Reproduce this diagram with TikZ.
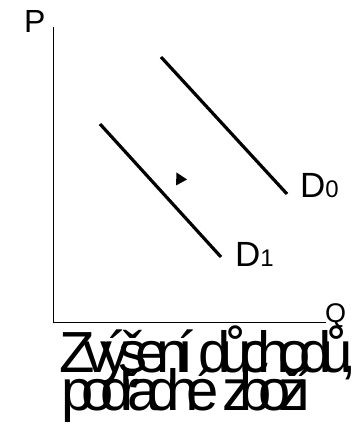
\documentclass[tikz,border=0pt]{standalone}
\usepackage{fontspec}
\setmainfont{Liberation Sans}
\newfontfamily\capfont[LetterSpace=-19.7]{Liberation Sans}
\newfontfamily\capfontb[LetterSpace=-21.5]{Liberation Sans}
\usetikzlibrary{positioning, arrows.meta}
\tikzset{
  axisline/.style={draw, line width=0.9pt},
  demand/.style={draw, line width=3.2pt},
  axislabel/.style={inner sep=0pt, font=\fontsize{32}{32}\selectfont},
  curvelabel/.style={inner sep=0pt, font=\fontsize{35}{35}\selectfont},
  caption/.style={inner sep=0pt, font=\capfont\fontsize{58}{58}\selectfont},
  captionb/.style={caption, font=\capfontb\fontsize{58}{58}\selectfont},
}
\newcommand{\sub}[1]{{\fontsize{24}{24}\selectfont #1}}

\begin{document}
\begin{tikzpicture}[x=1pt, y=-1pt]
  \useasboundingbox (0,0) rectangle (359,427);

  %% ── Axes ──
  \coordinate (origin) at (53,322);
  \coordinate (ptop)   at (53,27);
  \coordinate (qend)   at (326,322);
  \draw[axisline] (ptop) -- (origin) -- (qend);
  \node[axislabel, anchor=base west] (plab) at (24,33) {P};
  \node[axislabel, font=\fontsize{27}{27}\selectfont, anchor=base west]
    (qlab) at (325,322) {Q};

  %% ── Demand curves ──
  \coordinate (d0top) at (161,57);
  \coordinate (d0bot) at (287,194);
  \coordinate (d1top) at (100,124);
  \coordinate (d1bot) at (221,257);
  \draw[demand] (d0top) -- (d0bot);
  \draw[demand] (d1top) -- (d1bot);
  \node[curvelabel, anchor=base west] (d0lab) at (300,197) {D\sub{0}};
  \node[curvelabel, anchor=base west] (d1lab) at (235,266) {D\sub{1}};

  %% ── Shift marker ──
  \coordinate (shift) at (176.5,172.5);
  \fill (shift) -- ++(10.5,7) -- ++(-11,6) -- cycle;

  %% ── Caption ──
  \node[caption, anchor=base west]  (cap1) at (59,372) {Zvýšení důchodů,};
  \node[captionb, anchor=base west] (cap2) at (61,410) {podřadné zboží};

\end{tikzpicture}
\end{document}
